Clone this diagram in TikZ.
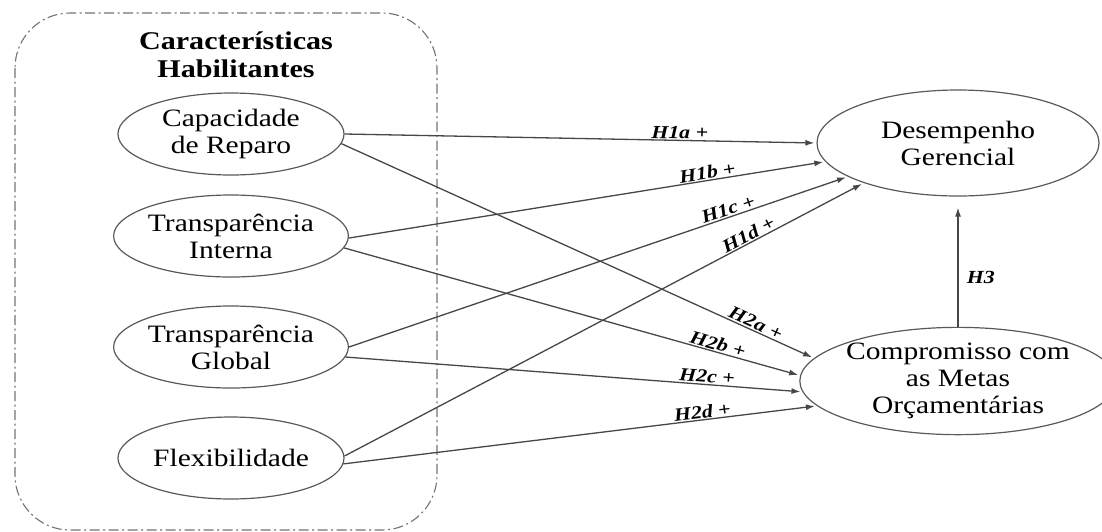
\documentclass[tikz,border=0pt]{standalone}
\usepackage{fontspec}
\setmainfont[FakeStretch=1.18]{Liberation Serif}
\usepackage{tikz}
\usetikzlibrary{shapes,arrows.meta,positioning,calc}

\begin{document}
\begin{tikzpicture}[x=1pt,y=-1pt,
    construct/.style={draw=black!65,line width=1.2pt,ellipse,minimum width=226pt,minimum height=82pt,
      inner sep=0pt,align=center,font=\fontsize{25}{27}\selectfont},
    outcome/.style={construct,minimum width=282pt,minimum height=106pt},
    hyp/.style={draw=black!72,line width=1.3pt,-{Latex[length=9pt,width=6pt]},shorten >=2pt},
    hlabel/.style={font=\fontsize{18.5}{18}\selectfont\bfseries\itshape,sloped,above,inner sep=1pt}]
        \useasboundingbox (0,0) rectangle (1102,531);
        % Group of enabling characteristics
        \draw[draw=black!55,line width=1.1pt,dash pattern=on 10pt off 3.5pt on 2pt off 3.5pt,
          rounded corners=55pt] (15,13) rectangle (437,530);
        \node[font=\fontsize{25.5}{28}\selectfont\bfseries,align=center] (title) at (236,55)
          {Características\\Habilitantes};
        % Antecedents
        \node[construct] (rep) at (231,134) {Capacidade\\de Reparo};
        \node[construct] (tin) at (231,236) {Transparência\\Interna};
        \node[construct] (tgl) at (231,347) {Transparência\\Global};
        \node[construct] (flx) at (231,458) {Flexibilidade};
        % Outcomes
        \node[outcome] (des) at (958,143) {Desempenho\\Gerencial};
        \node[outcome] (com) at (958,381) {Compromisso com\\as Metas\\Orçamentárias};
        % H1 paths
        \draw[hyp] (rep.0) -- node[hlabel,pos=0.71] {H1a +} (des.180);
        \draw[hyp] (tin.-1) -- node[hlabel,pos=0.755] {H1b +} (des.188);
        \draw[hyp] (tgl.0) -- node[hlabel,pos=0.765] {H1c +} (des.197);
        \draw[hyp] (flx.1) -- node[hlabel,pos=0.785] {H1d +} (des.203);
        % H2 paths
        \draw[hyp] (rep.-5) -- node[hlabel,pos=0.87] {H2a +} (com.171);
        \draw[hyp] (tin.-6) -- node[hlabel,pos=0.815] {H2b +} (com.178);
        \draw[hyp] (tgl.-5) -- node[hlabel,pos=0.79] {H2c +} (com.184);
        \draw[hyp] (flx.-3) -- node[hlabel,pos=0.76] {H2d +} (com.190);
        % H3
        \draw[hyp,shorten >=11pt] (com.north) -- node[right,pos=0.38,xshift=5pt,
          font=\fontsize{18.5}{18}\selectfont\bfseries\itshape] {H3} (des.south);
\end{tikzpicture}
\end{document}
